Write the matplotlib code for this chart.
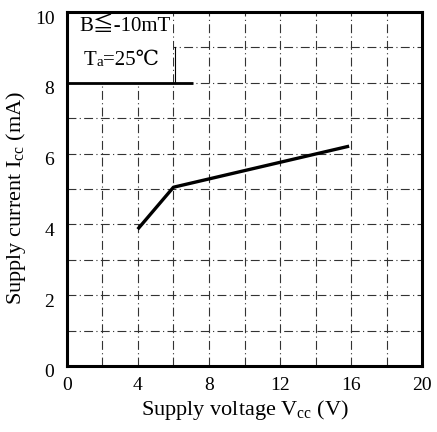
import matplotlib
matplotlib.use("Agg")
import matplotlib.pyplot as plt
from matplotlib.patches import Rectangle
from matplotlib.transforms import ScaledTranslation

plt.rcParams['font.family'] = ['Liberation Serif', 'DejaVu Serif', 'Noto Sans CJK JP']
plt.rcParams['mathtext.fontset'] = 'custom'
plt.rcParams['mathtext.rm'] = 'Liberation Serif'

vcc = [4.05, 6.0, 15.8]
icc = [3.9, 5.05, 6.2]
xticks = [0, 4, 8, 12, 16, 20]
yticks = [0, 2, 4, 6, 8, 10]
xlabel = "Supply voltage V$_{\\rm cc}$ (V)"
ylabel = "Supply current I$_{\\rm cc}$ (mA)"
cond1 = "B≦-10mT"
cond2_parts = ["T", "a", "=25℃"]

fig = plt.figure(figsize=(4.37, 4.32), dpi=100)
ax = fig.add_axes([0.153, 0.153, 0.813, 0.819])
ax.set_xlim(0, 20)
ax.set_ylim(0, 10)

# grid
for gx in range(2, 20, 2):
    ax.axvline(gx, color='#333333', lw=0.8, ls=(0, (8, 3, 1, 3)), zorder=1)
for gy in range(1, 10):
    ax.axhline(gy, color='#333333', lw=0.8, ls=(0, (8, 3, 1, 3)), zorder=1)

# condition box
ax.add_patch(Rectangle((0, 8), 6.0, 2.0, facecolor='white', edgecolor='none', zorder=2))
ax.plot([0, 7.1], [8, 8], color='black', lw=2.0, zorder=3, solid_capstyle='butt')
ax.plot([6.1, 6.1], [8, 9], color='black', lw=0.8, zorder=3)
ax.text(3.3, 9.58, cond1, ha='center', va='center', fontsize=15, zorder=4)
t1 = ax.text(0.95, 8.64, cond2_parts[0], ha='left', va='center', fontsize=15, zorder=4)
t2 = ax.annotate(cond2_parts[1], xy=(1.0, 0.05), xycoords=t1, ha='left', va='bottom',
                 fontsize=11, zorder=4)
t3 = ax.annotate(cond2_parts[2], xy=(1.0, 0.0), xycoords=(t2, t1), ha='left', va='bottom',
                 fontsize=15, zorder=4)

ax.plot(vcc, icc, color='black', lw=2.4, zorder=5)

ax.set_xticks(xticks)
ax.set_yticks(yticks)
ax.tick_params(length=0, labelsize=14)
ax.tick_params(axis='y', pad=9)
ax.tick_params(axis='x', pad=8)
shift = ScaledTranslation(0, -5 / 100, fig.dpi_scale_trans)
for lab in ax.get_yticklabels():
    lab.set_transform(lab.get_transform() + shift)
for s in ax.spines.values():
    s.set_linewidth(2.2)
ax.set_xlabel(xlabel, fontsize=16, labelpad=3)
ax.set_ylabel(ylabel, fontsize=16)
ax.yaxis.set_label_coords(-0.11, 0.475)

fig.savefig("out.png", dpi=100)
